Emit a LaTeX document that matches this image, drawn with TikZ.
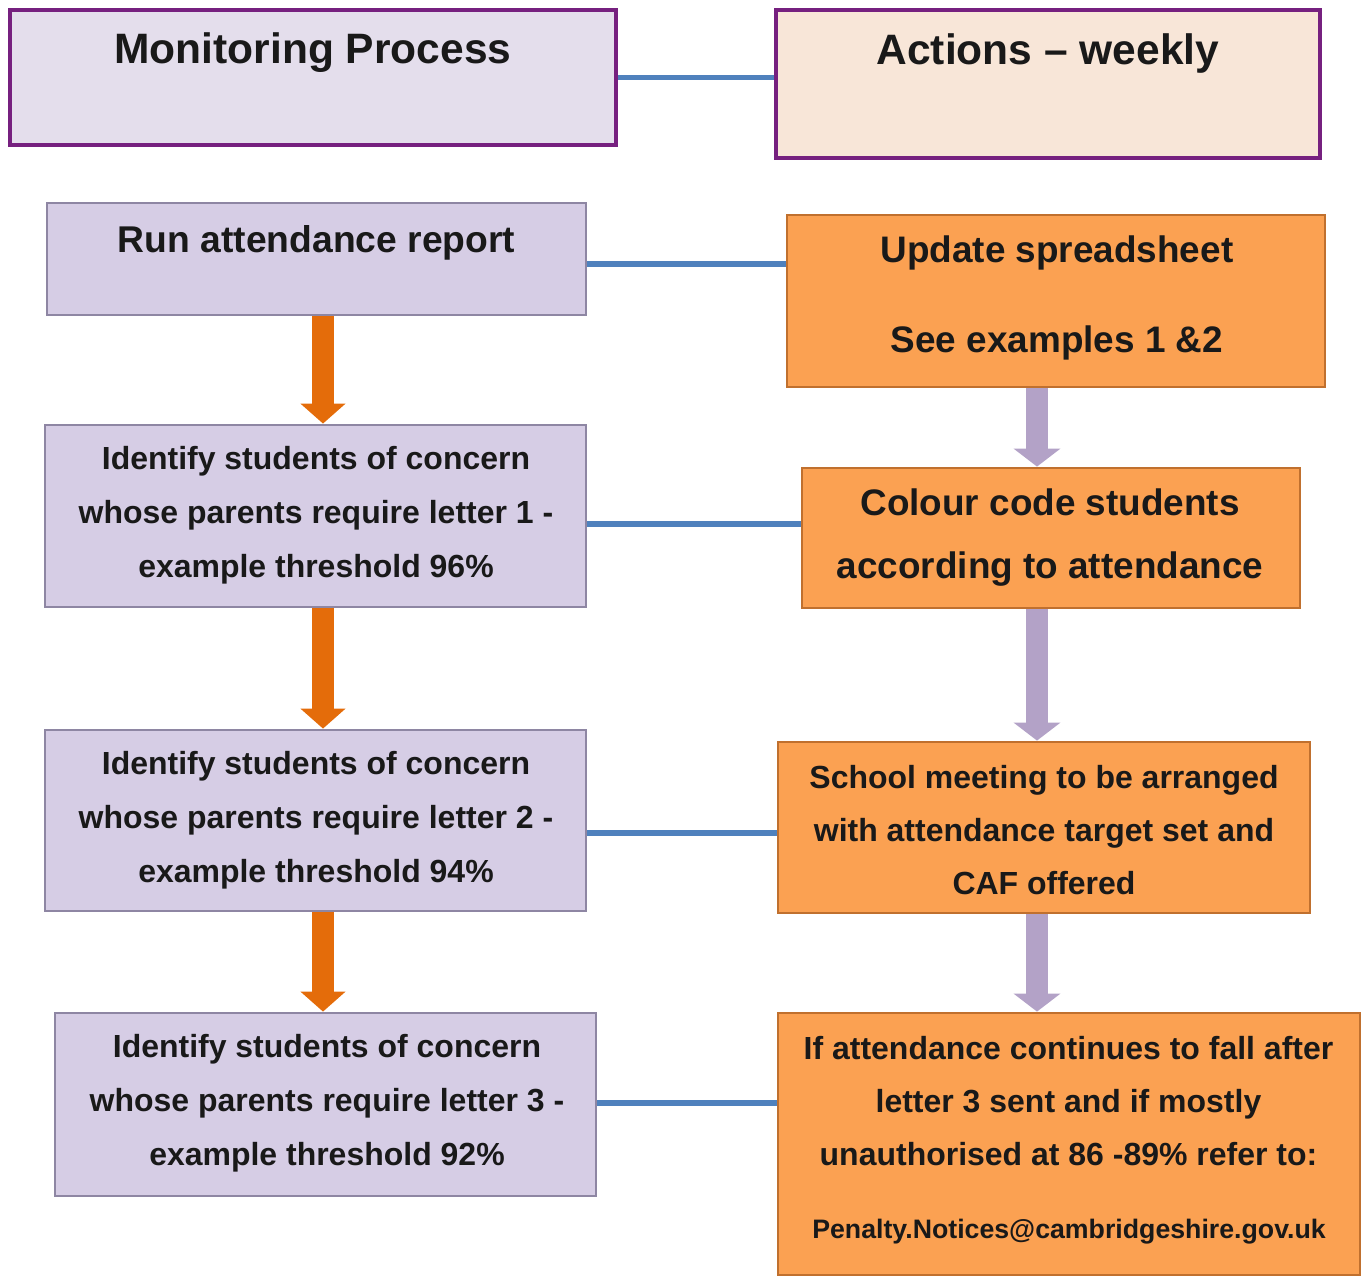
\documentclass[tikz,border=0pt]{standalone}
\usepackage{fontspec}
\setmainfont{Liberation Sans}
\usetikzlibrary{positioning, calc, arrows.meta}

\definecolor{headlav}{HTML}{E4DEEC}
\definecolor{headpeach}{HTML}{F8E6D8}
\definecolor{headline}{HTML}{76207F}
\definecolor{boxlav}{HTML}{D6CDE5}
\definecolor{boxlavline}{HTML}{8E86A3}
\definecolor{boxorange}{HTML}{FBA152}
\definecolor{boxorangeline}{HTML}{C0702E}
\definecolor{linkblue}{HTML}{4F81BD}
\definecolor{arroworange}{HTML}{E46C0A}
\definecolor{arrowlav}{HTML}{B3A2C7}

\begin{document}
\begin{tikzpicture}[x=0.1mm, y=-0.1mm,
    header/.style={draw=headline, line width=1.1pt, inner sep=0pt},
    leftbox/.style={draw=boxlavline, fill=boxlav, line width=0.8pt, inner sep=0pt},
    rightbox/.style={draw=boxorangeline, fill=boxorange, line width=0.8pt, inner sep=0pt},
    boxtext/.style={align=center, text=black!90, font=\bfseries},
    link/.style={draw=linkblue, line width=1.7pt},
    flowleft/.style={draw=arroworange, line width=2.2mm, -{Triangle[width=4.4mm, length=2mm]}},
    flowright/.style={draw=arrowlav, line width=2.2mm, -{Triangle[width=4.6mm, length=1.8mm]}}]
    \useasboundingbox (0,0) rectangle (1364,1277);

    % header boxes
    \node[header, fill=headlav, minimum width=60.6mm, minimum height=13.5mm] (mon) at (313,77.5) {};
    \node[header, fill=headpeach, minimum width=54.4mm, minimum height=14.8mm] (act) at (1048,84) {};

    % monitoring column
    \node[leftbox, minimum width=53.9mm, minimum height=11.2mm] (run) at (316.5,259) {};
    \node[leftbox, minimum width=54.1mm, minimum height=18.2mm] (idA) at (315.5,516) {};
    \node[leftbox, minimum width=54.1mm, minimum height=18.1mm] (idB) at (315.5,820.5) {};
    \node[leftbox, minimum width=54.1mm, minimum height=18.3mm] (idC) at (325.5,1104.5) {};

    % actions column
    \node[rightbox, minimum width=53.8mm, minimum height=17.2mm] (upd) at (1056,301) {};
    \node[rightbox, minimum width=49.8mm, minimum height=14.0mm] (col) at (1051,538) {};
    \node[rightbox, minimum width=53.2mm, minimum height=17.1mm] (sch) at (1044,827.5) {};
    \node[rightbox, minimum width=58.2mm, minimum height=26.2mm] (ref) at (1069,1144) {};

    % texts
    \node[boxtext, font=\bfseries\fontsize{12.1}{14}\selectfont] (monT) at (313,53) {Monitoring Process};
    \node[boxtext, font=\bfseries\fontsize{12.1}{14}\selectfont] (actT) at (1048,53) {Actions -- weekly};
    \node[boxtext, font=\bfseries\fontsize{10.6}{13}\selectfont] (runT) at (316.5,243) {Run attendance report};
    \node[boxtext, font=\bfseries\fontsize{9.1}{15.4}\selectfont] (idAT) at (316,515)
        {Identify students of concern\\whose parents require letter 1 -\\example threshold 96\%};
    \node[boxtext, font=\bfseries\fontsize{9.1}{15.4}\selectfont] (idBT) at (316,820)
        {Identify students of concern\\whose parents require letter 2 -\\example threshold 94\%};
    \node[boxtext, font=\bfseries\fontsize{9.1}{15.4}\selectfont] (idCT) at (327,1103)
        {Identify students of concern\\whose parents require letter 3 -\\example threshold 92\%};
    \node[boxtext, font=\bfseries\fontsize{10.5}{25.6}\selectfont] (updT) at (1057,298)
        {Update spreadsheet\\See examples 1 \&2};
    \node[boxtext, font=\bfseries\fontsize{10.5}{17.9}\selectfont] (colT) at (1050,537.5)
        {Colour code students\\according to attendance};
    \node[boxtext, font=\bfseries\fontsize{9.1}{15.2}\selectfont] (schT) at (1044,830)
        {School meeting to be arranged\\with attendance target set and\\CAF offered};
    \node[boxtext, font=\bfseries\fontsize{9.1}{15.2}\selectfont] (refT) at (1068.5,1101)
        {If attendance continues to fall after\\letter 3 sent and if mostly\\unauthorised at 86 -89\% refer to:};
    \node[boxtext, font=\bfseries\fontsize{7.6}{9}\selectfont] (mailT) at (1069,1232)
        {Penalty.Notices@cambridgeshire.gov.uk};

    % blue links between the columns
    \draw[link] (mon.east) -- (mon.east -| act.west);
    \draw[link] ($(run.east)+(0,5)$) -- ($(run.east -| upd.west)+(0,5)$);
    \draw[link] ($(idA.east)+(0,8)$) -- ($(idA.east -| col.west)+(0,8)$);
    \draw[link] ($(idB.east)+(0,12)$) -- ($(idB.east -| sch.west)+(0,12)$);
    \draw[link] ($(idC.east)+(0,-2)$) -- ($(idC.east -| ref.west)+(0,-2)$);

    % flow arrows
    \coordinate (lcol) at (323,0);
    \coordinate (rcol) at (1037,0);
    \draw[flowleft] (lcol |- run.south) -- (lcol |- idA.north);
    \draw[flowleft] (lcol |- idA.south) -- (lcol |- idB.north);
    \draw[flowleft] (lcol |- idB.south) -- (lcol |- idC.north);
    \draw[flowright] (rcol |- upd.south) -- (rcol |- col.north);
    \draw[flowright] (rcol |- col.south) -- (rcol |- sch.north);
    \draw[flowright] (rcol |- sch.south) -- (rcol |- ref.north);
\end{tikzpicture}
\end{document}
